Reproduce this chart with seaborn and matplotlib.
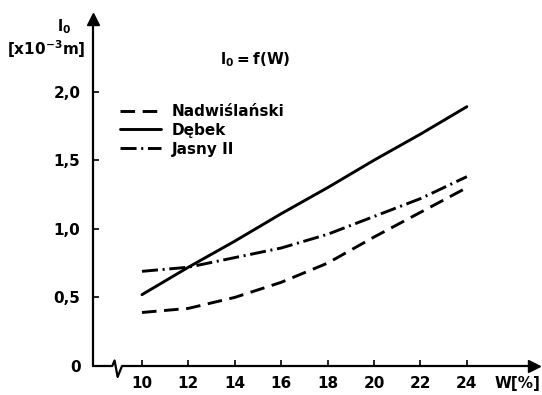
import numpy as np
import pandas as pd
import seaborn as sns
import matplotlib.pyplot as plt

# values
w = [10, 12, 14, 16, 18, 20, 22, 24]
nadwislanski = [0.39, 0.42, 0.50, 0.61, 0.75, 0.94, 1.12, 1.30]
debek = [0.52, 0.72, 0.91, 1.11, 1.30, 1.50, 1.69, 1.89]
jasny = [0.69, 0.72, 0.79, 0.86, 0.96, 1.09, 1.22, 1.38]
series_names = ["Nadwiślański", "Dębek", "Jasny II"]
y_ticks = [0, 0.5, 1.0, 1.5, 2.0]
y_labels = ["0", "0,5", "1,0", "1,5", "2,0"]

sns.set_style("white")
plt.rcParams['font.family'] = ['DejaVu Sans']
plt.rcParams['font.weight'] = 'bold'
plt.rcParams['text.color'] = 'black'
plt.rcParams['mathtext.fontset'] = 'custom'
plt.rcParams['mathtext.rm'] = 'DejaVu Sans:bold'
plt.rcParams['mathtext.it'] = 'DejaVu Sans:bold'
plt.rcParams['mathtext.default'] = 'rm'

df = pd.DataFrame({"W": w * 3,
                   "l0": nadwislanski + debek + jasny,
                   "odmiana": sum([[n] * len(w) for n in series_names], [])})

fig = plt.figure(figsize=(5.42, 3.95), dpi=100)
ax = fig.add_axes([93 / 542, 29 / 395, 447 / 542, 354 / 395])

dash_styles = {"Nadwiślański": (0, (5, 2.6)),
               "Dębek": "solid",
               "Jasny II": (0, (5.5, 1.6, 0.7, 1.6))}
handles = []
for name in series_names:
    sub = df[df["odmiana"] == name]
    sns.lineplot(data=sub, x="W", y="l0", ax=ax, color="black", lw=2.1,
                 legend=False, solid_capstyle="round", dash_capstyle="butt")
    ln = ax.lines[-1]
    ln.set_linestyle(dash_styles[name])
    ln.set_label(name)
    handles.append(ln)

xmin, xmax = 7.89, 27.15
ax.set_xlim(xmin, xmax)
ax.set_ylim(0, 2.58)
for s in ax.spines.values():
    s.set_visible(False)

# axes with arrows and the break on the W axis
ax.plot([xmin, xmin], [0, 2.53], color="black", lw=1.6, clip_on=False)
ax.plot([xmin], [2.53], marker="^", color="black", ms=8, clip_on=False)
ax.plot([xmin, 8.72, 8.82, 8.95, 9.14, 26.9], [0, 0, 0.04, -0.08, 0, 0],
        color="black", lw=1.6, clip_on=False)
ax.plot([26.9], [0], marker=">", color="black", ms=8, clip_on=False)

ax.set_xticks(w)
ax.set_xticklabels([str(v) for v in w])
ax.set_yticks(y_ticks)
ax.set_yticklabels(y_labels)
ax.tick_params(axis="both", direction="in", length=4, width=1.2,
               labelsize=11, colors="black")
ax.tick_params(axis="x", pad=7, bottom=True)
ax.tick_params(axis="y", pad=9, left=True)
ax.set_xlabel("")
ax.set_ylabel("")

ax.text(27.15, -0.13, "W[%]", ha="right", va="center", fontsize=11,
        fontweight="bold", clip_on=False)

fig.text(255 / 542, 1 - 60 / 395, r"$l_0 = f(W)$", ha="center", va="center",
         fontsize=11)
fig.text(64 / 542, 1 - 27 / 395, r"$l_0$", ha="center", va="center",
         fontsize=11)
fig.text(46 / 542, 1 - 49 / 395, r"[x10$^{-3}$m]", ha="center", va="center",
         fontsize=11, fontweight="bold")

ax.legend(handles=handles, loc="upper left",
          bbox_to_anchor=(120 / 542, 1 - 104 / 395),
          bbox_transform=fig.transFigure, frameon=False, fontsize=11,
          handlelength=2.7, handletextpad=0.7, labelspacing=0.25,
          borderpad=0, borderaxespad=0)

fig.savefig("out.png", dpi=100)
